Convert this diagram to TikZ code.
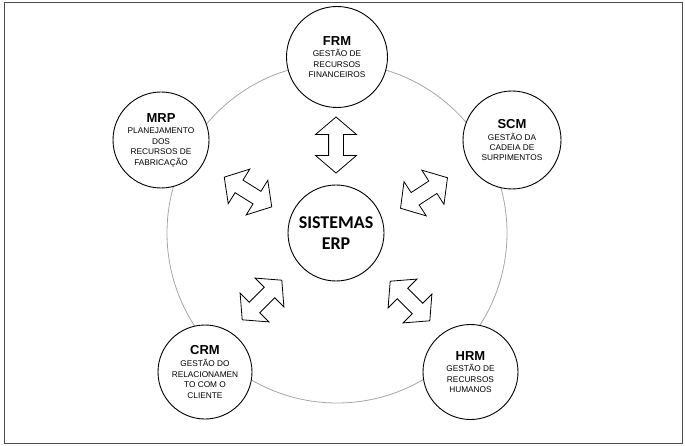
\documentclass[tikz,border=0pt]{standalone}
\usepackage{fontspec}
\setmainfont{Liberation Sans}
\newfontfamily\carlito{Carlito}
\usetikzlibrary{shapes.arrows}
\newcommand\modtitle[1]{{\fontsize{13}{13}\selectfont\bfseries #1}}
\newcommand\shaft{\rule{0pt}{14pt}}
\tikzset{
  module/.style={circle, draw=black, line width=0.9pt, fill=white, inner sep=0pt,
    align=center, font=\fontsize{8.3}{10.4}\selectfont},
  core/.style={circle, draw=black, line width=0.9pt, fill=white, inner sep=0pt,
    align=center, font=\carlito\bfseries\fontsize{18}{21}\selectfont, minimum size=96pt},
  biarrow/.style={double arrow, draw=black, line width=0.8pt, fill=white, inner sep=0pt,
    minimum height=56pt, double arrow head extend=13pt,
    double arrow tip angle=99},
  ring/.style={draw=black!35, line width=0.8pt},
  frame/.style={draw=black!70, line width=1.6pt}
}
\begin{document}
\begin{tikzpicture}[x=1pt,y=-1pt]
\useasboundingbox (0,0) rectangle (685,446);
\draw[frame] (4.5,2.5) rectangle (682.5,443.5);
\draw[ring] (337,233) circle[radius=170];
\node[core] (erp) at (336,233) {SISTEMAS\\ERP};
\node[module, minimum size=101pt] (frm) at (337,57) {\modtitle{FRM}\\[1.5pt]GESTÃO DE\\RECURSOS\\FINANCEIROS};
\node[module, minimum size=96pt] (mrp) at (161,140) {\modtitle{MRP}\\[1.5pt]PLANEJAMENTO\\DOS\\RECURSOS DE\\FABRICAÇÃO};
\node[module, minimum size=98pt] (scm) at (512,140) {\modtitle{SCM}\\[1.5pt]GESTÃO DA\\CADEIA DE\\SURPIMENTOS};
\node[module, minimum size=94pt] (crm) at (205,372) {\modtitle{CRM}\\[1.5pt]GESTÃO DO\\RELACIONAMEN\\TO COM O\\CLIENTE};
\node[module, minimum size=95pt] (hrm) at (470.5,372) {\modtitle{HRM}\\[1.5pt]GESTÃO DE\\RECURSOS\\HUMANOS};
\node[biarrow, rotate=90] (a-frm) at (336,145) {\shaft};
\node[biarrow, rotate=-32] (a-mrp) at (248,192) {\shaft};
\node[biarrow, rotate=33] (a-scm) at (424,193) {\shaft};
\node[biarrow, rotate=45] (a-crm) at (262,300) {\shaft};
\node[biarrow, rotate=-45] (a-hrm) at (410,301) {\shaft};
\end{tikzpicture}
\end{document}
